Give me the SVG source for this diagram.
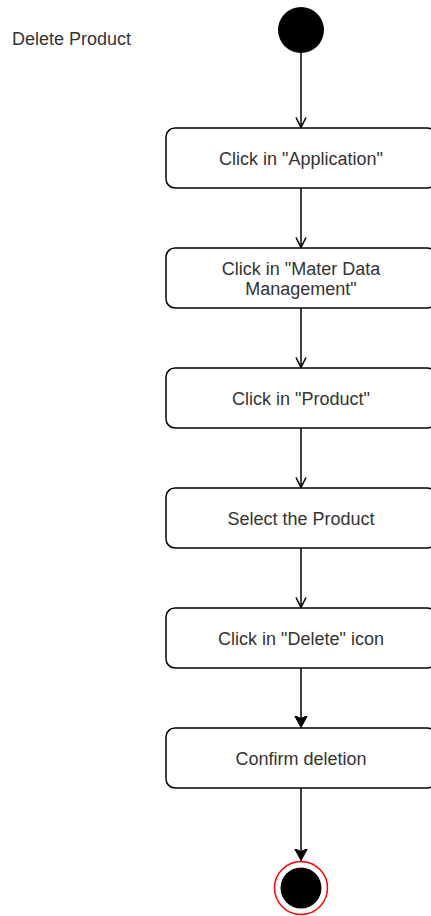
<svg xmlns="http://www.w3.org/2000/svg" width="431" height="916" viewBox="0 0 431 916">
  <style>
    .act rect { fill: #ffffff; stroke: #000000; stroke-width: 1.5; }
    .lbl { font-family: "Liberation Sans", Arial, sans-serif; font-size: 18px; fill: #333333; text-anchor: middle; }
    .title { font-family: "Liberation Sans", Arial, sans-serif; font-size: 18px; fill: #333333; }
    #connectors line { stroke: #000000; stroke-width: 1.5; fill: none; }
  </style>
  <defs>
    <marker id="open" markerUnits="userSpaceOnUse" markerWidth="12" markerHeight="12" viewBox="0 0 12 12" refX="11" refY="6" orient="auto">
      <path d="M1,1 L11,6 L1,11" fill="none" stroke="#000000" stroke-width="1.5"/>
    </marker>
    <marker id="filled" markerUnits="userSpaceOnUse" markerWidth="13" markerHeight="14" viewBox="0 0 13 14" refX="12" refY="7" orient="auto">
      <path d="M0,0.5 L12,7 L0,13.5 L3,7 Z" fill="#000000" stroke="#000000" stroke-width="1"/>
    </marker>
  </defs>

  <rect width="431" height="916" fill="#ffffff"/>

  <text class="title" x="12" y="45">Delete Product</text>

  <g id="connectors">
    <line x1="301" y1="53" x2="301" y2="127.5" marker-end="url(#open)"/>
    <line x1="301" y1="188" x2="301" y2="247.5" marker-end="url(#open)"/>
    <line x1="301" y1="308" x2="301" y2="367.5" marker-end="url(#open)"/>
    <line x1="301" y1="428" x2="301" y2="487.5" marker-end="url(#open)"/>
    <line x1="301" y1="548" x2="301" y2="607.5" marker-end="url(#open)"/>
    <line x1="301" y1="668" x2="301" y2="727.5" marker-end="url(#filled)"/>
    <line x1="301" y1="788" x2="301" y2="860.5" marker-end="url(#filled)"/>
  </g>

  <g id="start">
    <circle cx="301" cy="30" r="23" fill="#000000"/>
  </g>

  <g id="click-application" class="act">
    <rect x="166" y="128" width="270" height="60" rx="9" ry="9"/>
    <text class="lbl" x="301" y="165">Click in "Application"</text>
  </g>

  <g id="click-master-data" class="act">
    <rect x="166" y="248" width="270" height="60" rx="9" ry="9"/>
    <text class="lbl" x="301" y="275">Click in "Mater Data</text>
    <text class="lbl" x="301" y="295">Management"</text>
  </g>

  <g id="click-product" class="act">
    <rect x="166" y="368" width="270" height="60" rx="9" ry="9"/>
    <text class="lbl" x="301" y="405">Click in "Product"</text>
  </g>

  <g id="select-product" class="act">
    <rect x="166" y="488" width="270" height="60" rx="9" ry="9"/>
    <text class="lbl" x="301" y="525">Select the Product</text>
  </g>

  <g id="click-delete" class="act">
    <rect x="166" y="608" width="270" height="60" rx="9" ry="9"/>
    <text class="lbl" x="301" y="645">Click in "Delete" icon</text>
  </g>

  <g id="confirm-deletion" class="act">
    <rect x="166" y="728" width="270" height="60" rx="9" ry="9"/>
    <text class="lbl" x="301" y="765">Confirm deletion</text>
  </g>

  <g id="end">
    <circle cx="301" cy="888" r="26.5" fill="#ffffff" stroke="#ff0000" stroke-width="1.5"/>
    <circle cx="301" cy="888" r="20.5" fill="#000000"/>
  </g>
</svg>
